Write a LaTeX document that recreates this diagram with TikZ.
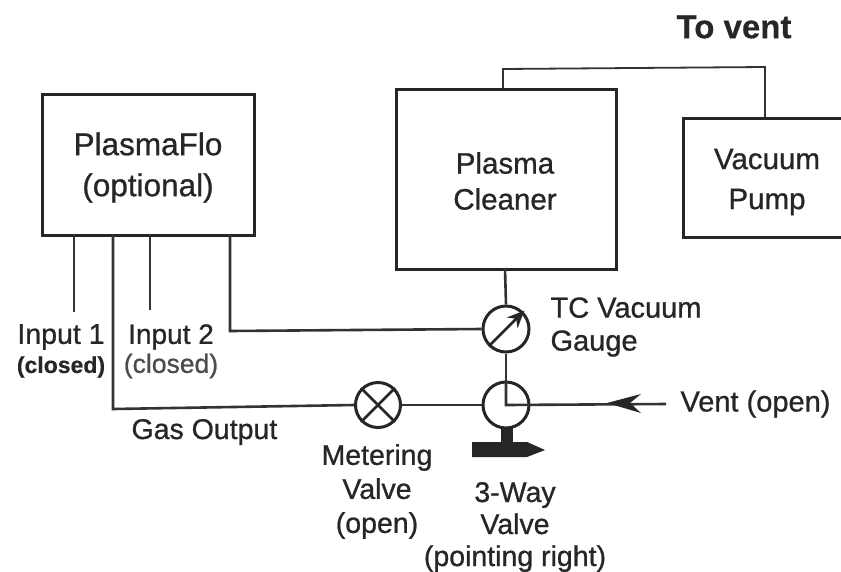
\documentclass[tikz,border=0pt]{standalone}
\usepackage{fontspec}
\setmainfont[FakeBold=0.8]{Liberation Sans}
\newfontfamily\headfont[FakeBold=0.35]{Liberation Sans Bold}
\usetikzlibrary{arrows.meta,calc}
\tikzset{
 unitbox/.style={draw=black!85,line width=2.6pt,fill=white},
 pipe/.style={draw=black!80,line width=2.6pt},
 dial/.style={circle,draw=black!85,line width=3pt,minimum size=46pt,inner sep=0pt,fill=white},
 big/.style={font=\fontsize{31.5}{38}\selectfont,align=center,text=black!85},
 mid/.style={font=\fontsize{29}{33}\selectfont,align=center,text=black!85},
}
\begin{document}
\begin{tikzpicture}[x=1pt,y=-1pt]
\useasboundingbox (0,0) rectangle (841,571);
\fill[white] (0,0) rectangle (841,571);
\coordinate (in1end) at (74,312);
\coordinate (in2end) at (150,310);
\coordinate (ventend) at (666,404);
\coordinate (corner) at (506,405);
\node[unitbox,minimum width=212pt,minimum height=141pt,anchor=north west,inner sep=0pt] (flo) at (41,93) {};
\node[unitbox,minimum width=220pt,minimum height=180pt,anchor=north west,inner sep=0pt] (cleaner) at (395,88) {};
\node[unitbox,minimum width=170pt,minimum height=119pt,anchor=north west,inner sep=0pt] (pump) at (682,117) {};
\draw[pipe,line width=1.8pt] (503,88) -- (503,69) -- (765,67) -- (765,117);
\node[dial] (gauge) at (506,329) {};
\node[dial] (valve) at (506,405) {};
\node[dial,minimum size=45pt] (meter) at (378,405) {};
\draw[pipe] (505,268) -- (gauge.north);
\draw[pipe] (gauge.south) -- (valve.north);
\draw[pipe] (valve.north) -- (corner) -- (ventend);
\draw[pipe] (valve.west) -- (meter.east);
\draw[pipe] (74,234) -- (in1end);
\draw[pipe] (150,234) -- (in2end);
\draw[pipe] (113,234) -- (113,409) -- (meter.west);
\draw[pipe] (230,234) -- (230,331) -- (gauge.west);
\draw[line width=2.6pt,black!85,-{Stealth[length=17pt,width=15pt]}] (gauge.south west) -- ($(gauge.north east)+(1,-1)$);
\draw[line width=2.6pt,black!85] (meter.north west) -- (meter.south east) (meter.north east) -- (meter.south west);
\fill[black!85] (607,403) -- (641,394) -- (630,403) -- (641,413) -- cycle;
\fill[black!85] (501,428) rectangle (513,444);
\fill[black!85] (472,442) -- (527,442) -- (545,450) -- (527,457) -- (472,457) -- cycle;
\node[big,font=\fontsize{31.5}{41}\selectfont] (lflo) at (148,167.5) {PlasmaFlo\\(optional)};
\node[big,font=\fontsize{29.5}{36}\selectfont] (lcleaner) at (505,181) {Plasma\\Cleaner};
\node[big,font=\fontsize{29.5}{40}\selectfont] (lpump) at (767,182) {Vacuum\\Pump};
\node[font=\headfont\fontsize{33}{38}\selectfont,text=black!85] (lvent) at (734,27) {To vent};
\node[mid,anchor=west,align=left] (ltc) at (547,327) {TC Vacuum\\Gauge};
\node[mid,anchor=west] (lvo) at (677,404) {Vent (open)};
\node[mid,anchor=west,font=\fontsize{28.5}{33}\selectfont] (lgo) at (128,432) {Gas Output};
\node[mid,font=\fontsize{28.5}{34}\selectfont] (lmv) at (377,491.5) {Metering\\Valve\\(open)};
\node[mid,font=\fontsize{28.5}{32}\selectfont] (l3w) at (515,527) {3-Way\\Valve\\(pointing right)};
\node[mid,font=\fontsize{28.5}{33}\selectfont] (li1) at (61,337) {Input 1};
\node[mid,font=\headfont\fontsize{23}{28}\selectfont] (lc1) at (61,367) {(closed)};
\node[mid,font=\fontsize{28}{33}\selectfont] (li2) at (171,337) {Input 2};
\node[mid,font=\fontsize{26.5}{28}\selectfont,text=black!70] (lc2) at (171,366) {(closed)};
\end{tikzpicture}
\end{document}
